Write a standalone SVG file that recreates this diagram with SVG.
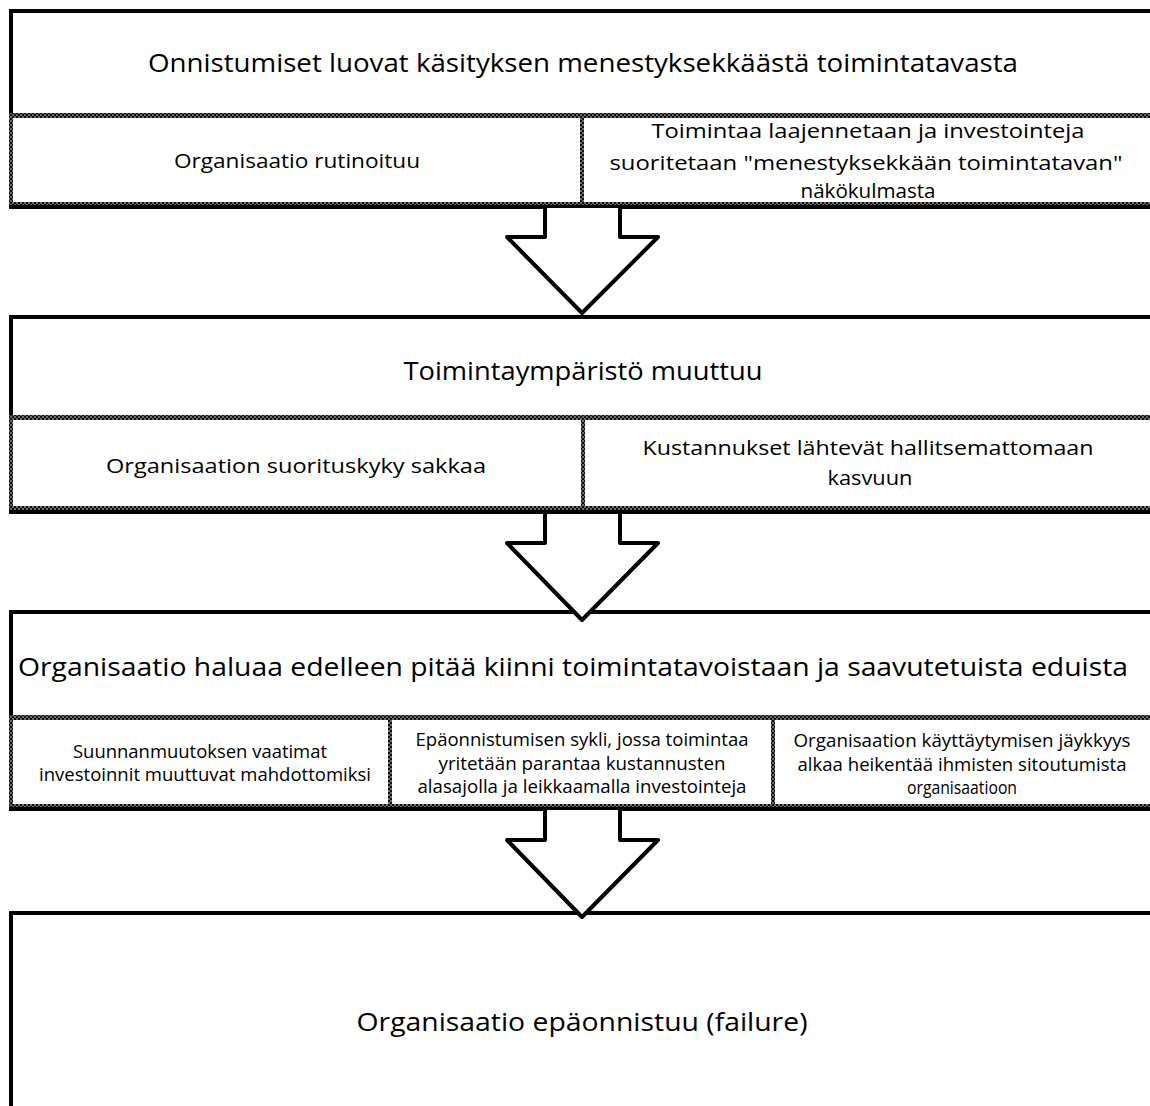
<svg xmlns="http://www.w3.org/2000/svg" width="1150" height="1106" viewBox="0 0 1150 1106">
  <defs>
    <pattern id="hatch" width="4" height="4" patternUnits="userSpaceOnUse">
      <rect width="4" height="4" fill="#6a6a6a"/>
      <rect width="2" height="2" fill="#111"/>
      <rect x="2" y="2" width="2" height="2" fill="#111"/>
    </pattern>
  </defs>
  <style>
    .t { font-family: "Open Sans", "Liberation Sans", sans-serif; fill: #000; text-anchor: middle; }
    .h { font-size: 26px; }
    .s { font-size: 20px; }
    .x { font-size: 18px; }
    .edge { fill: none; stroke: #000; stroke-width: 4; }
    .hb { fill: url(#hatch); }
    .arrow { fill: #fff; stroke: #000; stroke-width: 4; stroke-linejoin: round; }
  </style>
  <rect width="1150" height="1106" fill="#fff"/>

  <g id="block1">
    <path class="edge" d="M11,115 V11 H1152"/>
    <rect class="hb" x="9" y="113" width="1143" height="5"/>
    <rect class="hb" x="9" y="115" width="4" height="92"/>
    <rect class="hb" x="580" y="115" width="4" height="92"/>
    <rect class="hb" x="9" y="202" width="1143" height="4"/>
    <path class="edge" d="M9,207 H1152" stroke-width="3"/>
    <text class="t h" x="583" y="72" textLength="870" lengthAdjust="spacingAndGlyphs">Onnistumiset luovat käsityksen menestyksekkäästä toimintatavasta</text>
    <text class="t s" x="297" y="168" textLength="246" lengthAdjust="spacingAndGlyphs">Organisaatio rutinoituu</text>
    <text class="t s" x="868" y="138" textLength="433" lengthAdjust="spacingAndGlyphs">Toimintaa laajennetaan  ja investointeja</text>
    <text class="t s" x="866" y="170" textLength="513" lengthAdjust="spacingAndGlyphs">suoritetaan "menestyksekkään toimintatavan"</text>
    <text class="t s" x="868" y="198" textLength="135" lengthAdjust="spacingAndGlyphs">näkökulmasta</text>
  </g>

  <g id="block2">
    <path class="edge" d="M11,418 V317 H1152"/>
    <rect class="hb" x="9" y="415" width="1143" height="5"/>
    <rect class="hb" x="9" y="417" width="4" height="94"/>
    <rect class="hb" x="581" y="417" width="4" height="94"/>
    <rect class="hb" x="9" y="506" width="1143" height="4"/>
    <path class="edge" d="M9,512 H1152" stroke-width="3"/>
    <text class="t h" x="583" y="380" textLength="359" lengthAdjust="spacingAndGlyphs">Toimintaympäristö muuttuu</text>
    <text class="t s" x="296" y="473" textLength="380" lengthAdjust="spacingAndGlyphs">Organisaation suorituskyky sakkaa</text>
    <text class="t s" x="868" y="455" textLength="451" lengthAdjust="spacingAndGlyphs">Kustannukset lähtevät hallitsemattomaan</text>
    <text class="t s" x="870" y="485" textLength="85" lengthAdjust="spacingAndGlyphs">kasvuun</text>
  </g>

  <g id="block3">
    <path class="edge" d="M11,717 V612 H1152"/>
    <rect class="hb" x="9" y="715" width="1143" height="5"/>
    <rect class="hb" x="9" y="717" width="4" height="91"/>
    <rect class="hb" x="388" y="717" width="4" height="91"/>
    <rect class="hb" x="771" y="717" width="4" height="91"/>
    <rect class="hb" x="9" y="804" width="1143" height="4"/>
    <path class="edge" d="M9,809 H1152" stroke-width="3"/>
    <text class="t h" x="573" y="676" textLength="1110" lengthAdjust="spacingAndGlyphs">Organisaatio haluaa edelleen pitää kiinni toimintatavoistaan ja saavutetuista eduista</text>
    <text class="t x" x="200" y="758" textLength="254" lengthAdjust="spacingAndGlyphs">Suunnanmuutoksen vaatimat</text>
    <text class="t x" x="205" y="781" textLength="332" lengthAdjust="spacingAndGlyphs">investoinnit muuttuvat mahdottomiksi</text>
    <text class="t x" x="582" y="746" textLength="333" lengthAdjust="spacingAndGlyphs">Epäonnistumisen sykli, jossa toimintaa</text>
    <text class="t x" x="582" y="770" textLength="287" lengthAdjust="spacingAndGlyphs">yritetään parantaa  kustannusten</text>
    <text class="t x" x="582" y="793" textLength="329" lengthAdjust="spacingAndGlyphs">alasajolla ja leikkaamalla investointeja</text>
    <text class="t x" x="962" y="747" textLength="337" lengthAdjust="spacingAndGlyphs">Organisaation käyttäytymisen jäykkyys</text>
    <text class="t x" x="962" y="771" textLength="329" lengthAdjust="spacingAndGlyphs">alkaa heikentää ihmisten sitoutumista</text>
    <text class="t x" x="962" y="794" textLength="110" lengthAdjust="spacingAndGlyphs">organisaatioon</text>
  </g>

  <g id="block4">
    <path class="edge" d="M11,1110 V913 H1152"/>
    <text class="t h" x="582" y="1031" textLength="451" lengthAdjust="spacingAndGlyphs">Organisaatio epäonnistuu (failure)</text>
  </g>

  <g id="connectors">
    <polyline class="arrow" points="545,208 545,237 507,237 582,313 658,237 620,237 620,208"/>
    <polyline class="arrow" points="545,514 545,543 507,543 582,620 658,543 620,543 620,514"/>
    <polyline class="arrow" points="545,810 545,840 507,840 582,917 658,840 620,840 620,810"/>
  </g>
</svg>
